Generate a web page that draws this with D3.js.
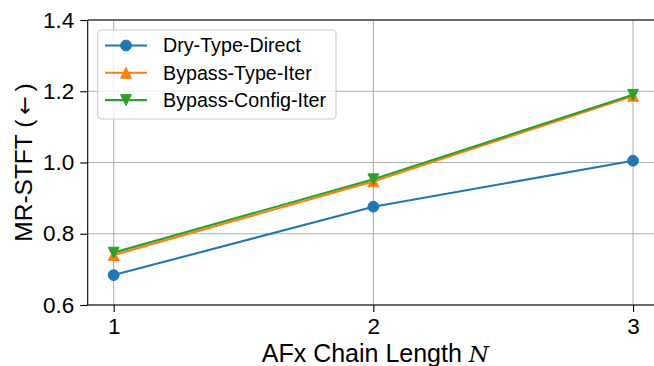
<!DOCTYPE html>
<html>
<head>
<meta charset="utf-8">
<script src="https://cdn.jsdelivr.net/npm/d3@7"></script>
<style>
  body { margin: 0; background: #fff; }
  svg { display: block; font-family: "Liberation Sans", Arial, sans-serif; }
</style>
</head>
<body>
<div id="chart"></div>
<script>
const chainLength = [1, 2, 3];
const dryTypeDirect = [0.684, 0.876, 1.005];
const bypassTypeIter = [0.740, 0.947, 1.187];
const bypassConfigIter = [0.747, 0.953, 1.190];
const yTicks = [0.6, 0.8, 1.0, 1.2, 1.4];

const series = [
  {name: "Dry-Type-Direct", values: dryTypeDirect, color: "#1f77b4", marker: "o"},
  {name: "Bypass-Type-Iter", values: bypassTypeIter, color: "#ff7f0e", marker: "^"},
  {name: "Bypass-Config-Iter", values: bypassConfigIter, color: "#2ca02c", marker: "v"}
];

const W = 654, H = 366;
const plotLeft = 87.7, plotRight = 659, plotTop = 20, plotBottom = 305;

const svg = d3.select("#chart").append("svg")
  .attr("width", W).attr("height", H);

const x = d3.scaleLinear().domain([0.9, 3.1]).range([plotLeft, plotRight]);
const y = d3.scaleLinear().domain([0.6, 1.4]).range([plotBottom, plotTop]);

// grid
const grid = svg.append("g");
grid.selectAll("line.h").data(yTicks).enter().append("line")
  .attr("x1", plotLeft).attr("x2", plotRight)
  .attr("y1", d => y(d)).attr("y2", d => y(d))
  .attr("stroke", "#b0b0b0").attr("stroke-width", 1.1);
grid.selectAll("line.v").data(chainLength).enter().append("line")
  .attr("x1", d => x(d)).attr("x2", d => x(d))
  .attr("y1", plotTop).attr("y2", plotBottom)
  .attr("stroke", "#b0b0b0").attr("stroke-width", 1.1);

// marker drawing
const ms = 10.8;
function markerPath(type) {
  const s = ms / 2;
  if (type === "^") return `M0,${-s}L${s},${s}L${-s},${s}Z`;
  if (type === "v") return `M0,${s}L${s},${-s}L${-s},${-s}Z`;
  return null;
}
function drawMarker(g, type, cx, cy, color) {
  if (type === "o") {
    g.append("circle").attr("cx", cx).attr("cy", cy).attr("r", ms / 2)
      .attr("fill", color).attr("stroke", color).attr("stroke-width", 1);
  } else {
    g.append("path").attr("d", markerPath(type))
      .attr("transform", `translate(${cx},${cy})`)
      .attr("fill", color).attr("stroke", color).attr("stroke-width", 1);
  }
}

// lines
const line = d3.line().x(d => x(d[0])).y(d => y(d[1]));
const plot = svg.append("g");
series.forEach(s => {
  const pts = chainLength.map((c, i) => [c, s.values[i]]);
  const g = plot.append("g");
  g.append("path").datum(pts).attr("d", line)
    .attr("fill", "none").attr("stroke", s.color).attr("stroke-width", 2.1);
  pts.forEach(p => drawMarker(g, s.marker, x(p[0]), y(p[1]), s.color));
});

// top spine
svg.append("line").attr("x1", plotLeft).attr("x2", plotRight).attr("y1", plotTop).attr("y2", plotTop)
  .attr("stroke", "#000").attr("stroke-width", 1.1);

// axes
const yAxis = d3.axisLeft(y).tickValues(yTicks).tickFormat(d3.format(".1f"))
  .tickSize(7.5).tickPadding(6);
const gY = svg.append("g").attr("transform", `translate(${plotLeft},0)`).call(yAxis);
const xAxis = d3.axisBottom(x).tickValues(chainLength).tickFormat(d3.format("d"))
  .tickSize(7).tickPadding(6);
const gX = svg.append("g").attr("transform", `translate(0,${plotBottom})`).call(xAxis);
[gX, gY].forEach(g => {
  g.select(".domain").attr("stroke", "#000").attr("stroke-width", 1.1);
  g.selectAll(".tick line").attr("stroke", "#000").attr("stroke-width", 1.1);
  g.selectAll(".tick text").attr("fill", "#000")
    .style("font-family", "'Liberation Sans', Arial, sans-serif").style("font-size", "22.5px");
});
gX.select(".domain").attr("d", `M${plotLeft},0H${plotRight}`);
gY.select(".domain").attr("d", `M0,${plotBottom}V${plotTop}`);

// axis labels
const xl = svg.append("text")
  .attr("x", (plotLeft + plotRight) / 2 + 2).attr("y", 362)
  .attr("text-anchor", "middle").style("font-size", "25px");
xl.append("tspan").text("AFx Chain Length ");
xl.append("tspan").text("N").style("font-family", "'DejaVu Serif', 'Liberation Serif', serif")
  .style("font-style", "italic").style("font-size", "23px");

const yl = svg.append("text")
  .attr("transform", `translate(32,${(plotTop + plotBottom) / 2}) rotate(-90)`)
  .attr("text-anchor", "middle").style("font-size", "24.5px");
yl.append("tspan").text("MR-STFT (\u2009");
yl.append("tspan").text("\u2190").style("font-family", "'DejaVu Sans', sans-serif").style("font-size", "22px");
yl.append("tspan").text("\u2009)");

// legend
const legend = svg.append("g");
legend.append("rect")
  .attr("x", 97.7).attr("y", 30).attr("width", 238.3).attr("height", 89)
  .attr("rx", 4).attr("fill", "#fff").attr("fill-opacity", 0.8)
  .attr("stroke", "#cccccc").attr("stroke-width", 1.1);
series.forEach((s, i) => {
  const cy = 45.5 + i * 27.3;
  const g = legend.append("g");
  g.append("line").attr("x1", 105).attr("x2", 147).attr("y1", cy).attr("y2", cy)
    .attr("stroke", s.color).attr("stroke-width", 2.1);
  drawMarker(g, s.marker, 126, cy, s.color);
  g.append("text").attr("x", 163).attr("y", cy).attr("dy", "0.35em")
    .style("font-size", "19.7px").attr("fill", "#000").text(s.name);
});
</script>
</body>
</html>
